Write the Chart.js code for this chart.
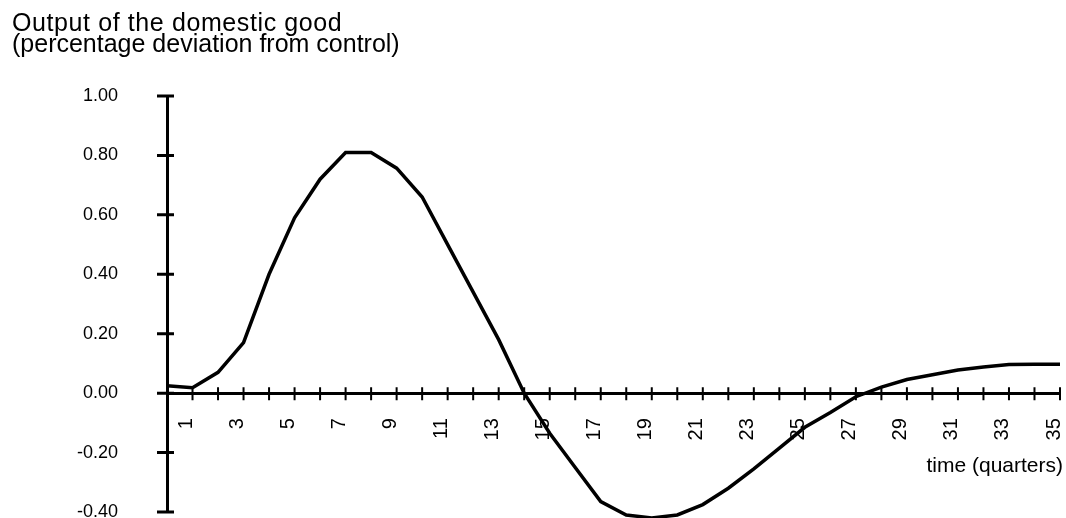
<!DOCTYPE html>
<html>
<head>
<meta charset="utf-8">
<script src="https://cdn.jsdelivr.net/npm/chart.js@4.4.1/dist/chart.umd.min.js"></script>
<style>
  body { margin: 0; background: #fff; }
  #wrap { position: relative; width: 1066px; height: 518px; overflow: hidden;
          font-family: "Liberation Sans", Arial, Helvetica, sans-serif; color: #000; }
  #mainChart { display: block; }
  .t { position: absolute; white-space: nowrap; }
  #title1 { left: 12px; top: 12px; font-size: 25px; line-height: 21px; letter-spacing: 0.6px; }
  #title2 { left: 12px; top: 33px; font-size: 25px; line-height: 21px; }
  #xTitle { right: 3px; top: 454px; font-size: 21px; line-height: 21px; }
</style>
</head>
<body>
<div id="wrap">
  <canvas id="mainChart" width="1066" height="518"></canvas>
  <div class="t" id="title1">Output of the domestic good</div>
  <div class="t" id="title2">(percentage deviation from control)</div>
  <div class="t" id="xTitle">time (quarters)</div>
</div>
<script>
// quarters after the shock, one point per quarter
const quarters = [0, 1, 2, 3, 4, 5, 6, 7, 8, 9, 10, 11, 12, 13, 14, 15, 16, 17,
    18, 19, 20, 21, 22, 23, 24, 25, 26, 27, 28, 29, 30, 31, 32, 33, 34, 35];
// output, percentage deviation from control
const output = [0.025, 0.018, 0.07, 0.17, 0.40, 0.59, 0.72, 0.81, 0.81, 0.757,
    0.66, 0.50, 0.34, 0.18, 0.00, -0.135, -0.25, -0.365, -0.41, -0.42,
    -0.41, -0.375, -0.32, -0.255, -0.185, -0.115, -0.065, -0.012, 0.02, 0.046,
    0.062, 0.078, 0.088, 0.096, 0.097, 0.097];
// only odd quarters get a label
const xTickLabels = quarters.map((q) => (q % 2 === 1 ? String(q) : ''));
const yMin = -0.4;
const yMax = 1.0;
const yStep = 0.2;

// tick marks that cross the axis lines
const crossTicks = {
    id: 'crossTicks',
    afterDraw(chart) {
        const ctx = chart.ctx;
        const x = chart.scales.x;
        const y = chart.scales.y;
        const y0 = y.getPixelForValue(0);
        ctx.save();
        ctx.strokeStyle = '#000';
        ctx.lineWidth = 2;
        ctx.beginPath();
        x.ticks.forEach((t, i) => {
            const px = x.getPixelForTick(i);
            ctx.moveTo(px, y0 - 6);
            ctx.lineTo(px, y0 + 7);
        });
        ctx.stroke();
        ctx.lineWidth = 3;
        ctx.beginPath();
        y.ticks.forEach((t, i) => {
            const py = y.getPixelForTick(i);
            ctx.moveTo(x.left - 10, py);
            ctx.lineTo(x.left + 7, py);
        });
        ctx.stroke();
        ctx.restore();
    },
};

const ctx = document.getElementById('mainChart').getContext('2d');
const config = {
    type: 'line',
    data: {
        labels: quarters,
        datasets: [
            {
                data: output,
                borderColor: '#000',
                borderWidth: 3.5,
                pointRadius: 0,
                tension: 0,
                fill: false,
                clip: false,
            },
        ],
    },
    options: {
        responsive: false,
        animation: false,
        devicePixelRatio: 1,
        layout: {
            padding: { left: 0, top: 96, right: 6, bottom: 6 },
        },
        plugins: {
            legend: { display: false },
            tooltip: { enabled: false },
            title: { display: false },
        },
        scales: {
            x: {
                type: 'category',
                position: { y: 0 },
                offset: false,
                grid: { display: true, drawOnChartArea: false, drawTicks: false },
                border: { display: true, color: '#000', width: 3 },
                ticks: {
                    autoSkip: false,
                    minRotation: 90,
                    maxRotation: 90,
                    padding: 25,
                    labelOffset: -6,
                    color: '#000',
                    font: { family: '"Liberation Sans", Arial, sans-serif', size: 20 },
                    callback: (value, index) => xTickLabels[index],
                },
                afterFit: (scale) => {
                    scale.height = 0;
                    scale.paddingLeft = 0;
                    scale.paddingRight = 0;
                },
            },
            y: {
                min: yMin,
                max: yMax,
                grid: { display: true, drawOnChartArea: false, drawTicks: false },
                border: { display: true, color: '#000', width: 3 },
                ticks: {
                    stepSize: yStep,
                    padding: 49,
                    color: '#000',
                    font: { family: '"Liberation Sans", Arial, sans-serif', size: 18 },
                    callback: (value) => {
                        const v = Math.abs(value) < 1e-9 ? 0 : value;
                        return v.toFixed(2);
                    },
                },
                afterFit: (scale) => {
                    scale.width = 167;
                    scale.paddingTop = 0;
                    scale.paddingBottom = 0;
                },
            },
        },
    },
    plugins: [crossTicks],
};

const chart = new Chart(ctx, config);
</script>
</body>
</html>
